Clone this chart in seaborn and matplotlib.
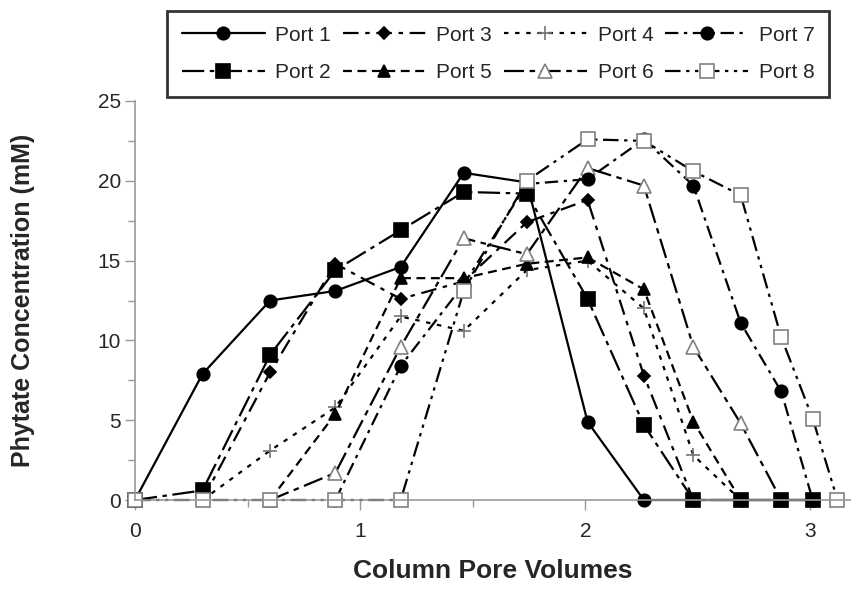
import numpy as np
import pandas as pd
import seaborn as sns
import matplotlib.pyplot as plt
from matplotlib.ticker import MultipleLocator

# pore volumes at which samples were taken
poreVol = [0, 0.30, 0.60, 0.89, 1.18, 1.46, 1.74, 2.01, 2.26, 2.48, 2.69, 2.87, 3.01, 3.12]

# phytate concentration (mM) per port, None = no sample
port1 = [0, 7.9, 12.5, 13.1, 14.6, 20.5, 19.9, 4.9, 0, 0, 0, 0, 0, None]
port2 = [0, 0.6, 9.1, 14.4, 16.9, 19.3, 19.2, 12.6, 4.7, 0, 0, 0, 0, None]
port3 = [None, 0, 8.0, 14.8, 12.6, 13.7, 17.4, 18.8, 7.8, 0, None, None, None, None]
port4 = [None, 0, 3.1, 5.8, 11.5, 10.6, 14.4, 15.0, 12.0, 2.8, 0, None, None, None]
port5 = [None, None, 0, 5.4, 13.9, 13.9, 14.8, 15.2, 13.2, 4.9, 0, None, None, None]
port6 = [None, None, 0, 1.7, 9.6, 16.4, 15.4, 20.8, 19.7, 9.6, 4.8, 0, None, None]
port7 = [None, None, None, 0, 8.4, 13.5, 19.8, 20.1, 22.6, 19.7, 11.1, 6.8, 0, None]
port8 = [0, 0, 0, 0, 0, 13.1, 20.0, 22.6, 22.5, 20.6, 19.1, 10.2, 5.1, 0]

portNames = ['Port 1', 'Port 2', 'Port 3', 'Port 4', 'Port 5', 'Port 6', 'Port 7', 'Port 8']
portData = [port1, port2, port3, port4, port5, port6, port7, port8]

# marker / line style of each port
styles = {
    'Port 1': dict(marker='o', ms=9, mfc='black', mec='black', ls='-'),
    'Port 2': dict(marker='s', ms=9.5, mfc='black', mec='black', ls=(0, (10, 2.5, 2, 2.5))),
    'Port 3': dict(marker='D', ms=6.5, mfc='black', mec='black', ls=(0, (7, 3, 2, 3))),
    'Port 4': dict(marker='+', ms=10, mfc='none', mec='0.45', ls=(0, (2, 3))),
    'Port 5': dict(marker='^', ms=9, mfc='black', mec='black', ls=(0, (4, 2.5))),
    'Port 6': dict(marker='^', ms=9.5, mfc='white', mec='0.5', ls=(0, (9, 2.5, 2.5, 2.5))),
    'Port 7': dict(marker='o', ms=9, mfc='black', mec='black', ls=(0, (6, 2.5, 1.5, 2.5))),
    'Port 8': dict(marker='s', ms=10, mfc='white', mec='0.5', ls=(0, (7, 2.5, 1.5, 2.5, 1.5, 2.5))),
}

sns.set_style('ticks')
plt.rcParams['font.family'] = ['Liberation Sans', 'DejaVu Sans']

fig = plt.figure(figsize=(8.51, 5.96), dpi=100)
ax = fig.add_axes([135 / 851, 96 / 596, 1 - 135 / 851, 399 / 596])

# drawing order: port 2 on top of zeros on the right, port 8 on top of everything
drawOrder = ['Port 1', 'Port 3', 'Port 4', 'Port 5', 'Port 6', 'Port 7', 'Port 2', 'Port 8']
lineOf = {}
for name in drawOrder:
    vals = portData[portNames.index(name)]
    df = pd.DataFrame({'pv': poreVol, 'c': vals}).dropna()
    st = styles[name]
    before = len(ax.lines)
    sns.lineplot(data=df, x='pv', y='c', ax=ax, color='black', linewidth=1.6,
                 linestyle=st['ls'], marker=st['marker'], markersize=st['ms'],
                 markerfacecolor=st['mfc'], markeredgecolor=st['mec'],
                 markeredgewidth=1.2, clip_on=False, label=name)
    lineOf[name] = ax.lines[before]
if ax.get_legend() is not None:
    ax.get_legend().remove()

ax.set_xlim(0, 3.18)
ax.set_ylim(0, 25)
ax.xaxis.set_major_locator(MultipleLocator(1))
ax.xaxis.set_minor_locator(MultipleLocator(0.5))
ax.yaxis.set_major_locator(MultipleLocator(5))
ax.yaxis.set_minor_locator(MultipleLocator(2.5))
ax.tick_params(which='major', length=7, width=1, color='0.6', labelsize=15, pad=3)
ax.tick_params(axis='x', which='major', pad=9)
ax.tick_params(which='minor', length=5, width=1, color='0.6')
sns.despine(ax=ax)
for side in ['left', 'bottom']:
    ax.spines[side].set_color('0.6')
    ax.spines[side].set_linewidth(1.2)

ax.set_xlabel('Column Pore Volumes', fontsize=19, fontweight='bold', labelpad=13)
ax.set_ylabel('Phytate Concentration (mM)', fontsize=18, fontweight='bold', labelpad=45)

legendOrder = ['Port 1', 'Port 2', 'Port 3', 'Port 5', 'Port 4', 'Port 6', 'Port 7', 'Port 8']
leg = fig.legend([lineOf[n] for n in legendOrder], legendOrder, ncol=4,
                 loc='center', bbox_to_anchor=(167 / 851, 1 - 98 / 596, 662 / 851, 88 / 596),
                 mode='expand', fontsize=15, handlelength=4, handletextpad=0.5,
                 columnspacing=0.6, frameon=True, fancybox=False, borderpad=0.7,
                 labelspacing=0.9, borderaxespad=0)
leg.get_frame().set_edgecolor('black')
leg.get_frame().set_linewidth(2)

fig.savefig('out.png', dpi=100)
